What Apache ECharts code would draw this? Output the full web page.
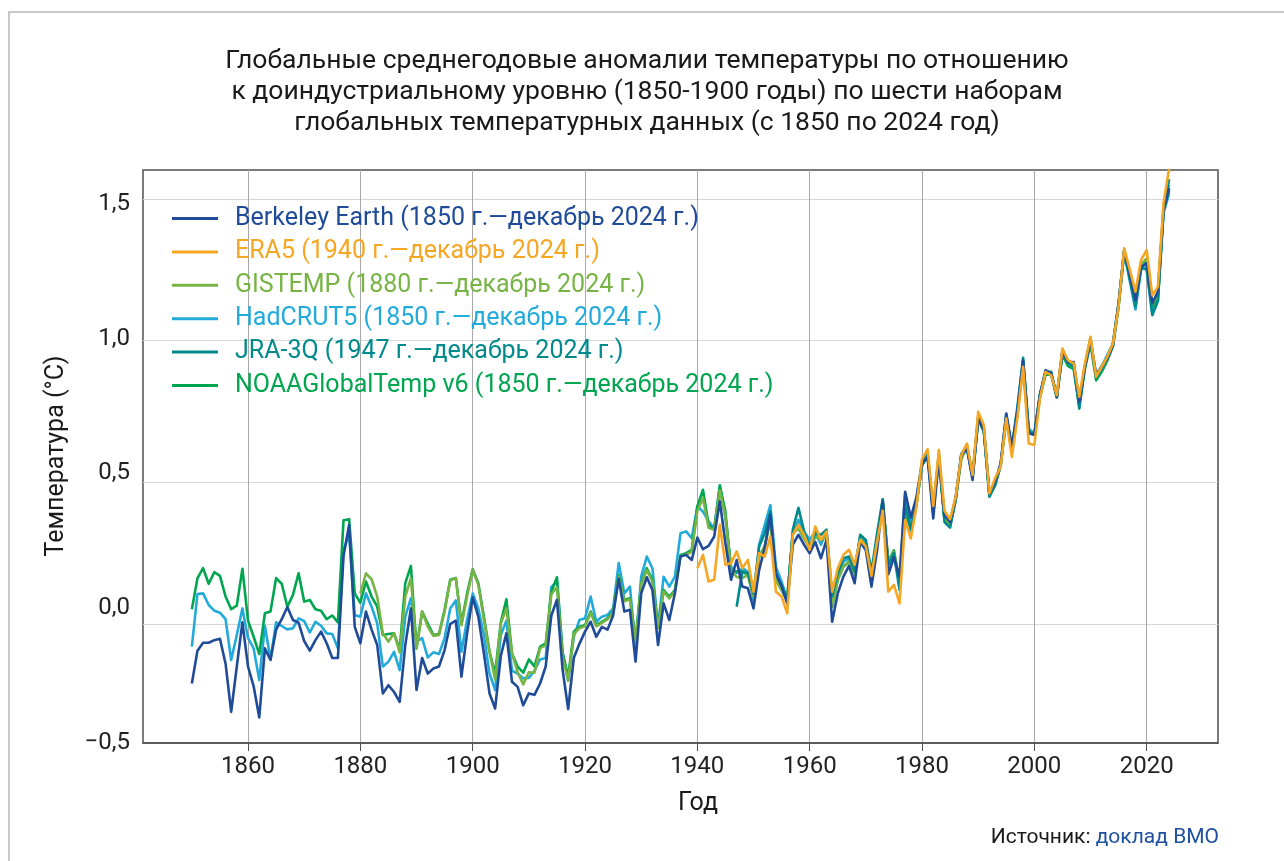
<!DOCTYPE html>
<html><head><meta charset="utf-8">
<script src="https://cdn.jsdelivr.net/npm/echarts@6/dist/echarts.min.js"></script>
<style>html,body{margin:0;padding:0;background:#fff}#c{width:1284px;height:861px}</style>
</head><body><div id="c"></div>
<script>
const xTicks = [1860, 1880, 1900, 1920, 1940, 1960, 1980, 2000, 2020];
const yTicks = [-0.5, 0, 0.5, 1.0, 1.5];
const yGrid = [0, 0.5, 1.0, 1.5];

const berkeleyStart = 1850;
const berkeley = [
 -0.21, -0.094, -0.066, -0.066, -0.057, -0.052, -0.14, -0.31, -0.15, 0.006,
 -0.15, -0.22, -0.33, -0.086, -0.127, -0.02, 0.017, 0.06, 0.014, 0.005,
 -0.06, -0.094, -0.057, -0.027, -0.068, -0.12, -0.12, 0.24, 0.35, -0.01,
 -0.068, 0.044, -0.02, -0.074, -0.245, -0.216, -0.24, -0.275, -0.074, 0.055,
 -0.233, -0.12, -0.175, -0.157, -0.15, -0.092, 0.0, 0.012, -0.186, -0.033,
 0.094, 0.026, -0.104, -0.245, -0.298, -0.113, -0.033, -0.204, -0.222, -0.287,
 -0.245, -0.25, -0.21, -0.15, 0.03, 0.085, -0.16, -0.30, -0.12, -0.07,
 -0.027, 0.008, -0.045, -0.01, -0.02, 0.03, 0.16, 0.044, 0.05, -0.133,
 0.108, 0.165, 0.12, -0.074, 0.073, 0.014, 0.108, 0.238, 0.244, 0.226,
 0.305, 0.264, 0.276, 0.309, 0.433, 0.285, 0.156, 0.226, 0.132, 0.126,
 0.055, 0.19, 0.27, 0.385, 0.18, 0.132, 0.073, 0.28, 0.315, 0.28,
 0.25, 0.29, 0.232, 0.297, 0.008, 0.108, 0.167, 0.205, 0.144, 0.29,
 0.26, 0.132, 0.26, 0.432, 0.175, 0.235, 0.167, 0.467, 0.376, 0.447,
 0.567, 0.588, 0.373, 0.585, 0.385, 0.36, 0.449, 0.596, 0.62, 0.508,
 0.726, 0.684, 0.461, 0.502, 0.567, 0.743, 0.626, 0.755, 0.931, 0.673,
 0.667, 0.808, 0.896, 0.884, 0.802, 0.966, 0.925, 0.925, 0.784, 0.908,
 1.002, 0.879, 0.908, 0.937, 0.984, 1.13, 1.32, 1.232, 1.144, 1.26,
 1.273, 1.132, 1.173, 1.461, 1.538
];

const era5Start = 1940;
const era5 = [
 0.197, 0.244, 0.15, 0.156, 0.35, 0.209, 0.215, 0.256, 0.197, 0.226,
 0.114, 0.25, 0.238, 0.309, 0.114, 0.097, 0.038, 0.315, 0.35, 0.315,
 0.262, 0.344, 0.297, 0.327, 0.114, 0.197, 0.244, 0.262, 0.209, 0.297,
 0.274, 0.17, 0.29, 0.40, 0.114, 0.138, 0.073, 0.367, 0.302, 0.414,
 0.582, 0.616, 0.417, 0.614, 0.40, 0.37, 0.449, 0.596, 0.637, 0.526,
 0.749, 0.702, 0.461, 0.514, 0.555, 0.726, 0.59, 0.731, 0.908, 0.637,
 0.632, 0.796, 0.89, 0.878, 0.808, 0.972, 0.931, 0.92, 0.802, 0.92,
 1.014, 0.873, 0.908, 0.943, 0.99, 1.12, 1.326, 1.25, 1.173, 1.285,
 1.32, 1.16, 1.19, 1.485, 1.608
];

const gistempStart = 1880;
const gistemp = [
 0.108, 0.179, 0.158, 0.097, -0.033, -0.062, -0.033, -0.1, 0.097, 0.162,
 -0.086, 0.044, -0.009, -0.042, -0.039, 0.044, 0.153, 0.162, -0.004, 0.097,
 0.191, 0.138, 0.014, -0.098, -0.198, 0.002, 0.055, -0.104, -0.17, -0.213,
 -0.17, -0.172, -0.085, -0.075, 0.105, 0.13, -0.115, -0.2, -0.035, -0.015,
 -0.008, 0.04, -0.008, 0.004, 0.016, 0.04, 0.168, 0.08, 0.087, -0.062,
 0.14, 0.19, 0.15, -0.015, 0.115, 0.09, 0.115, 0.24, 0.245, 0.255,
 0.397, 0.445, 0.34, 0.333, 0.472, 0.38, 0.19, 0.166, 0.162, 0.173,
 0.097, 0.238, 0.274, 0.368, 0.156, 0.12, 0.085, 0.32, 0.338, 0.303,
 0.268, 0.309, 0.297, 0.309, 0.061, 0.156, 0.203, 0.22, 0.173, 0.303,
 0.274, 0.167, 0.297, 0.43, 0.22, 0.255, 0.15, 0.39, 0.34, 0.42,
 0.56, 0.60, 0.40, 0.58, 0.37, 0.35, 0.44, 0.58, 0.63, 0.52,
 0.72, 0.69, 0.46, 0.49, 0.56, 0.73, 0.62, 0.74, 0.91, 0.68,
 0.67, 0.81, 0.89, 0.88, 0.80, 0.96, 0.92, 0.92, 0.78, 0.91,
 1.00, 0.87, 0.90, 0.94, 0.99, 1.13, 1.32, 1.23, 1.14, 1.27,
 1.29, 1.13, 1.16, 1.47, 1.55
];

const hadcrutStart = 1850;
const hadcrut = [
 -0.08, 0.106, 0.108, 0.067, 0.047, 0.04, 0.017, -0.127, -0.039, 0.055,
 -0.05, -0.086, -0.198, -0.006, -0.125, 0.006, -0.007, -0.019, -0.015, 0.02,
 0.01, -0.03, 0.008, -0.006, -0.033, -0.035, -0.086, 0.262, 0.315, 0.032,
 0.026, 0.108, 0.061, 0.002, -0.15, -0.133, -0.098, -0.163, 0.026, 0.091,
 -0.062, -0.05, -0.118, -0.1, -0.106, -0.05, 0.055, 0.083, -0.098, 0.014,
 0.108, 0.055, -0.039, -0.175, -0.233, -0.039, 0.012, -0.165, -0.175, -0.192,
 -0.19, -0.165, -0.125, -0.12, 0.13, 0.15, -0.10, -0.2, -0.045, 0.014,
 0.02, 0.097, 0.008, 0.026, 0.032, 0.055, 0.215, 0.108, 0.132, -0.09,
 0.167, 0.238, 0.197, -0.01, 0.167, 0.132, 0.167, 0.32, 0.327, 0.303,
 0.415, 0.397, 0.362, 0.338, 0.486, 0.374, 0.203, 0.18, 0.197, 0.185,
 0.085, 0.28, 0.35, 0.42, 0.2, 0.15, 0.085, 0.315, 0.368, 0.327,
 0.297, 0.327, 0.28, 0.327, 0.085, 0.173, 0.22, 0.232, 0.19, 0.309,
 0.285, 0.17, 0.29, 0.42, 0.19, 0.24, 0.15, 0.46, 0.36, 0.44,
 0.57, 0.60, 0.40, 0.60, 0.37, 0.35, 0.44, 0.60, 0.62, 0.52,
 0.73, 0.69, 0.46, 0.50, 0.56, 0.73, 0.62, 0.77, 0.93, 0.69,
 0.67, 0.81, 0.89, 0.88, 0.81, 0.96, 0.92, 0.91, 0.78, 0.91,
 1.0, 0.88, 0.91, 0.95, 0.99, 1.13, 1.31, 1.21, 1.11, 1.25,
 1.26, 1.10, 1.14, 1.45, 1.52
];

const jraStart = 1947;
const jra = [
 0.061, 0.185, 0.18,
 0.108, 0.274, 0.32, 0.397, 0.173, 0.138, 0.085, 0.333, 0.41, 0.327,
 0.274, 0.32, 0.315, 0.333, 0.097, 0.18, 0.232, 0.238, 0.185, 0.315,
 0.297, 0.185, 0.32, 0.44, 0.21, 0.25, 0.12, 0.42, 0.33, 0.43,
 0.56, 0.60, 0.39, 0.60, 0.36, 0.34, 0.44, 0.60, 0.63, 0.52,
 0.73, 0.69, 0.45, 0.49, 0.56, 0.74, 0.62, 0.76, 0.94, 0.68,
 0.67, 0.81, 0.89, 0.89, 0.80, 0.96, 0.92, 0.91, 0.76, 0.91,
 1.01, 0.87, 0.90, 0.94, 0.99, 1.13, 1.32, 1.22, 1.12, 1.26,
 1.25, 1.09, 1.14, 1.46, 1.57
];

const noaaStart = 1850;
const noaa = [
 0.052, 0.162, 0.197, 0.142, 0.183, 0.17, 0.097, 0.052, 0.065, 0.195,
 0.012, -0.045, -0.106, 0.038, 0.044, 0.162, 0.142, 0.061, 0.103, 0.179,
 0.079, 0.085, 0.052, 0.047, 0.017, 0.03, 0.006, 0.366, 0.37, 0.108,
 0.075, 0.15, 0.097, 0.061, -0.039, -0.035, -0.033, -0.09, 0.144, 0.205,
 -0.086, 0.044, 0.002, -0.039, -0.035, 0.05, 0.156, 0.162, 0.002, 0.108,
 0.193, 0.144, 0.026, -0.098, -0.175, 0.005, 0.087, -0.104, -0.15, -0.172,
 -0.125, -0.15, -0.08, -0.068, 0.114, 0.165, -0.10, -0.186, -0.027, -0.01,
 -0.004, 0.044, -0.004, 0.008, 0.02, 0.044, 0.173, 0.085, 0.091, -0.057,
 0.144, 0.197, 0.156, -0.01, 0.12, 0.097, 0.12, 0.244, 0.25, 0.262,
 0.415, 0.474, 0.35, 0.333, 0.49, 0.397, 0.19, 0.185, 0.185, 0.173,
 0.097, 0.238, 0.274, 0.368, 0.156, 0.12, 0.085, 0.32, 0.338, 0.303,
 0.268, 0.309, 0.297, 0.309, 0.061, 0.156, 0.203, 0.22, 0.173, 0.303,
 0.274, 0.167, 0.297, 0.44, 0.22, 0.26, 0.145, 0.38, 0.345, 0.42,
 0.56, 0.59, 0.41, 0.59, 0.37, 0.35, 0.44, 0.59, 0.62, 0.52,
 0.72, 0.68, 0.45, 0.49, 0.56, 0.72, 0.61, 0.75, 0.91, 0.68,
 0.67, 0.80, 0.88, 0.88, 0.80, 0.95, 0.91, 0.90, 0.77, 0.90,
 0.99, 0.86, 0.89, 0.93, 0.98, 1.12, 1.31, 1.22, 1.13, 1.26,
 1.28, 1.12, 1.15, 1.46, 1.53
];

const names = {
  berkeley: 'Berkeley Earth (1850 г.\u2014декабрь 2024 г.)',
  era5: 'ERA5 (1940 г.\u2014декабрь 2024 г.)',
  gistemp: 'GISTEMP (1880 г.\u2014декабрь 2024 г.)',
  hadcrut: 'HadCRUT5 (1850 г.\u2014декабрь 2024 г.)',
  jra: 'JRA-3Q (1947 г.\u2014декабрь 2024 г.)',
  noaa: 'NOAAGlobalTemp v6 (1850 г.\u2014декабрь 2024 г.)'
};
const colors = {
  berkeley: '#1f4b98', era5: '#f5a623', gistemp: '#78b445',
  hadcrut: '#22aadb', jra: '#008a8c', noaa: '#00a54f'
};

const F = 'Roboto, "Noto Sans", "DejaVu Sans", sans-serif';
const fmt = v => (v < 0 ? '\u2212' : '') + Math.abs(v).toFixed(1).replace('.', ',');
const pairs = (start, arr) => arr.map((v, i) => [start + i, v]);
const mk = (key, start, arr) => ({
  name: names[key], type: 'line', yAxisIndex: 0, data: pairs(start, arr),
  symbol: 'none', showSymbol: false, smooth: false,
  lineStyle: { color: colors[key], width: 2.6, join: 'round' },
  itemStyle: { color: colors[key] }, emphasis: { disabled: true }
});

const chart = echarts.init(document.getElementById('c'), null, { renderer: 'canvas' });
const legendOrder = ['berkeley', 'era5', 'gistemp', 'hadcrut', 'jra', 'noaa'];

chart.setOption({
  animation: false,
  backgroundColor: '#ffffff',
  grid: { left: 143, top: 170, right: 66, bottom: 118, show: true, borderColor: '#505050', borderWidth: 1.5, backgroundColor: 'transparent' },
  xAxis: {
    type: 'value', min: 1841.3, max: 2032.7,
    axisLine: { show: true, onZero: false, lineStyle: { color: '#505050', width: 1.5 } },
    axisTick: { show: true, length: 8, customValues: xTicks, lineStyle: { color: '#505050' } },
    axisLabel: { customValues: xTicks, margin: 12, color: '#222', fontSize: 24, fontFamily: F, formatter: v => String(v) },
    splitLine: { show: true, lineStyle: { color: '#a8a8a8', width: 1 } }
  },
  yAxis: [
    { type: 'value', min: -0.42, max: 1.6025,
      axisLine: { show: false }, axisTick: { show: false, customValues: yGrid }, axisLabel: { show: false },
      splitLine: { show: true, lineStyle: { color: '#d6d6d6', width: 1.2 } } },
    { type: 'value', position: 'left', min: -0.5, max: 1.626, interval: 0.5,
      axisLine: { show: false }, axisTick: { show: false }, splitLine: { show: false },
      axisLabel: { customValues: yTicks, margin: 13, color: '#222', fontSize: 24, fontFamily: F, formatter: fmt } }
  ],
  legend: {
    orient: 'vertical', left: 172, top: 206, padding: 0, itemWidth: 46, itemHeight: 3,
    itemGap: 8.4, icon: 'rect', selectedMode: false,
    textStyle: { fontSize: 25, fontFamily: F, lineHeight: 25, padding: [0, 0, 0, 12] },
    data: legendOrder.map(k => ({ name: names[k], textStyle: { color: colors[k] } }))
  },
  series: [
    mk('hadcrut', hadcrutStart, hadcrut),
    mk('noaa', noaaStart, noaa),
    mk('gistemp', gistempStart, gistemp),
    mk('jra', jraStart, jra),
    mk('berkeley', berkeleyStart, berkeley),
    mk('era5', era5Start, era5)
  ],
  graphic: [
    { type: 'rect', silent: true, shape: { x: 9, y: 12, width: 1400, height: 1000 },
      style: { fill: 'none', stroke: '#c8c8c8', lineWidth: 2 } },
    { type: 'text', x: 647, y: 92, silent: true,
      style: { text: 'Глобальные среднегодовые аномалии температуры по отношению\nк доиндустриальному уровню (1850-1900 годы) по шести наборам\nглобальных температурных данных (с 1850 по 2024 год)',
        align: 'center', verticalAlign: 'middle', fill: '#1a1a1a', fontSize: 26.5, fontFamily: F, lineHeight: 31 } },
    { type: 'text', x: 57, y: 456, rotation: Math.PI / 2, silent: true,
      style: { text: 'Температура (°C)', align: 'center', verticalAlign: 'middle', fill: '#1a1a1a', fontSize: 25, fontFamily: F } },
    { type: 'text', x: 698, y: 804, silent: true,
      style: { text: 'Год', align: 'center', verticalAlign: 'middle', fill: '#1a1a1a', fontSize: 25, fontFamily: F } },
    { type: 'text', x: 1219, y: 838, silent: true,
      style: { text: '{a|Источник: }{b|доклад ВМО}', align: 'right', verticalAlign: 'middle',
        rich: { a: { fill: '#1a1a1a', fontSize: 21, fontFamily: F }, b: { fill: '#1e50a2', fontSize: 21, fontFamily: F } } } }
  ]
});
</script>
</body></html>
